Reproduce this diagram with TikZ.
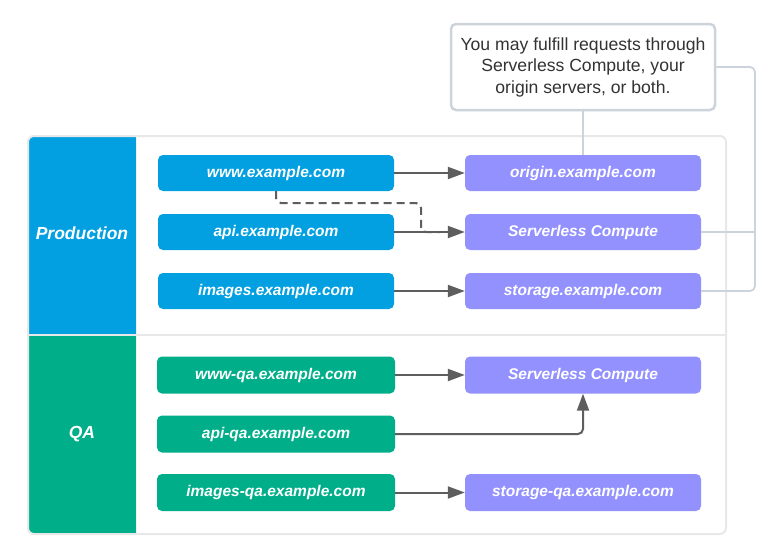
\documentclass[tikz,border=0pt]{standalone}
\usepackage{fontspec}
\setmainfont{Liberation Sans}
\usetikzlibrary{arrows.meta}
\definecolor{prodblue}{HTML}{02A0E0}
\definecolor{qagreen}{HTML}{00AF8A}
\definecolor{purp}{HTML}{9391FE}
\definecolor{arrowgray}{HTML}{5E5E5E}
\definecolor{noteline}{HTML}{CDD3DA}
\definecolor{boxline}{HTML}{E8E8E8}
\definecolor{notetext}{HTML}{333333}
\tikzset{
  hostbox/.style={rectangle, rounded corners=5pt, minimum height=36pt, inner sep=0pt,
    text=white, font=\fontsize{15.5}{18}\selectfont\bfseries\itshape},
  prodbox/.style={hostbox, fill=prodblue, minimum width=236pt},
  qabox/.style={hostbox, fill=qagreen, minimum width=238pt, minimum height=37pt},
  destbox/.style={hostbox, fill=purp, minimum width=236pt},
  lanelabel/.style={text=white, font=\fontsize{17.5}{20}\selectfont\bfseries\itshape},
  flow/.style={draw=arrowgray, line width=2pt, -{Triangle[length=17pt,width=12pt]}},
  dashflow/.style={draw=arrowgray, line width=2pt, dash pattern=on 8pt off 5pt, rounded corners=5pt},
  noteconn/.style={draw=noteline, line width=1.8pt, rounded corners=5pt},
  notebox/.style={rectangle, draw=noteline, line width=2.5pt, fill=white, rounded corners=5pt,
    minimum width=264pt, minimum height=86pt, align=center, text=notetext,
    font=\fontsize{17.6}{21.5}\selectfont},
}
\begin{document}
\begin{tikzpicture}[x=1pt,y=-1pt]
\useasboundingbox (0,0) rectangle (781,555);
% container
\fill[white, rounded corners=6pt] (28,136) rectangle (726,534);
% production header
\fill[prodblue, rounded corners=6pt] (28,136) rectangle (136,334);
\fill[prodblue] (60,180) rectangle (136,334);
\fill[prodblue] (100,136) rectangle (136,200);
\fill[prodblue] (28,200) rectangle (80,334);
% qa header
\fill[qagreen, rounded corners=6pt] (28,335) rectangle (136,534);
\fill[qagreen] (28,335) rectangle (100,450);
\fill[qagreen] (60,335) rectangle (136,534);
\draw[boxline, line width=2pt, rounded corners=6pt] (28,136) rectangle (726,534);
\draw[boxline, line width=2pt] (28,334.5) -- (726,334.5);
\draw[boxline!70, line width=1pt] (136.5,136) -- (136.5,534);

\node[lanelabel] (prodlabel) at (82,233) {Production};
\node[lanelabel] (qalabel) at (82,434) {QA};

% production row
\node[prodbox] (www) at (276,173) {www.example.com};
\node[prodbox] (api) at (276,232) {api.example.com};
\node[prodbox] (img) at (276,291) {images.example.com};
\node[destbox] (origin) at (583,173) {origin.example.com};
\node[destbox] (sc) at (583,232) {Serverless Compute};
\node[destbox] (stor) at (583,291) {storage.example.com};

% qa row
\node[qabox] (wwwqa) at (276,375) {www-qa.example.com};
\node[qabox] (apiqa) at (276,434) {api-qa.example.com};
\node[qabox] (imgqa) at (276,492.5) {images-qa.example.com};
\node[destbox, minimum height=37pt] (scqa) at (583,375) {Serverless Compute};
\node[destbox, minimum height=37pt] (storqa) at (583,492.5) {storage-qa.example.com};

% note
\node[notebox] (note) at (583,67) {You may fulfill requests through\\Serverless Compute, your\\origin servers, or both.};
\coordinate (rc) at (755,291);
\draw[noteconn] (note.south) -- (origin.north);
\draw[noteconn] (note.east) -| (rc) -- (stor.east);
\draw[noteconn] (sc.east) -- (sc.east -| rc);

% arrows
\coordinate (dj) at (421,203);
\coordinate (dend) at (440,232);
\draw[dashflow] (www.south) |- (dj) |- (dend);
\draw[flow] (www.east) -- (origin.west);
\draw[flow] (api.east) -- (sc.west);
\draw[flow] (img.east) -- (stor.west);
\draw[flow] (wwwqa.east) -- (scqa.west);
\draw[flow, rounded corners=5pt] (apiqa.east) -| (scqa.south);
\draw[flow] (imgqa.east) -- (storqa.west);
\end{tikzpicture}
\end{document}
